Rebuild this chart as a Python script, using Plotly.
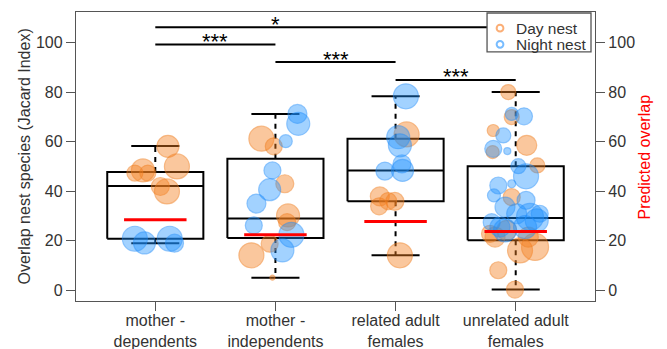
import plotly.graph_objects as go

# ---- data -------------------------------------------------------------
categories = ["mother -<br>dependents", "mother -<br>independents",
              "related adult<br>females", "unrelated adult<br>females"]

# box summaries (Jaccard overlap, %)
box_lower = [19.0, 5.1, 14.1, 0.3]
box_q1 = [20.8, 21.1, 35.9, 20.2]
box_median = [42.1, 29.0, 48.4, 29.2]
box_q3 = [47.7, 53.1, 61.2, 50.1]
box_upper = [58.2, 71.2, 78.3, 80.0]

# predicted overlap per category
predicted = [28.5, 22.4, 27.8, 23.7]

# day-nest observations: category index, jitter, value, weight
day_cat = [1] * 7 + [2] * 8 + [3] * 6 + [4] * 15
day_jit = [0.105, 0.18, -0.103, -0.17, -0.062, 0.042, 0.097,
           -0.117, -0.014, 0.078, 0.105, 0.097, -0.048, -0.2, -0.025,
           0.092, -0.131, -0.006, -0.137, -0.062, 0.036,
           -0.062, -0.033, -0.187, 0.092, -0.192, 0.18, -0.033, -0.145,
           -0.006, -0.172, 0.036, 0.161, -0.075, 0.105, -0.214]
day_val = [58.1, 50.0, 48.4, 47.3, 47.3, 41.9, 39.9,
           61.2, 58.1, 43.0, 30.2, 27.5, 18.8, 14.1, 5.1,
           62.9, 37.9, 35.9, 33.9, 36.0, 14.1,
           80.0, 69.9, 64.5, 58.5, 55.8, 50.4, 37.6, 8.1,
           0.3, 21.5, 16.1, 17.5, 24.2, 21.5, 22.8]
day_wt = [22, 25, 23, 16, 16, 18, 25,
          25, 17, 18, 23, 17, 17, 25, 5,
          25, 19, 18, 17, 17, 25,
          15, 15, 12, 20, 13, 15, 17, 17,
          17, 20, 25, 27, 20, 20, 17]

# night-nest observations
night_cat = [1] * 4 + [2] * 9 + [3] * 6 + [4] * 20
night_jit = [-0.17, -0.09, 0.12, 0.16,
             0.183, 0.19, 0.086, -0.025, -0.048, -0.158, -0.18, 0.133, 0.058,
             0.086, 0.022, 0.036, -0.089, 0.058, 0.053,
             -0.033, 0.069, -0.103, -0.187, -0.07, 0.022, 0.086, -0.145,
             -0.033, -0.181, 0.086, -0.089, 0.119, 0.008, -0.2, 0.175,
             -0.089, 0.078, 0.2, -0.131]
night_val = [20.8, 19.1, 20.8, 19.0,
             71.2, 67.2, 60.2, 48.4, 40.6, 35.0, 26.2, 22.4, 16.1,
             78.3, 61.8, 58.5, 48.1, 48.4, 51.0,
             71.2, 70.2, 62.5, 57.1, 56.2, 50.1, 46.0, 42.3,
             43.0, 38.3, 36.3, 33.6, 29.6, 30.9, 27.5, 28.2,
             24.2, 25.5, 30.9, 25.5]
night_wt = [25, 22, 25, 18,
            19, 23, 13, 17, 22, 19, 17, 25, 23,
            25, 23, 23, 18, 22, 18,
            13, 17, 15, 17, 7, 15, 25, 17,
            8, 13, 18, 20, 27, 20, 17, 23,
            23, 23, 17, 20]

# pairwise comparisons: from, to, height, label, label position
sig_from = [1, 1, 2, 3]
sig_to = [4, 2, 3, 4]
sig_y = [106.2, 99.2, 92.1, 84.9]
sig_text = ["*", "***", "***", "***"]
sig_label_x = [2.0, 1.5, 2.5, 3.5]

y_ticks = [0, 20, 40, 60, 80, 100]

# ---- styling ----------------------------------------------------------
FONT = "Liberation Sans, Arial, sans-serif"
ORANGE_FILL = "rgba(245,128,30,0.62)"
ORANGE_LINE = "rgba(240,125,30,0.7)"
BLUE_FILL = "rgba(30,144,255,0.58)"
BLUE_LINE = "rgba(30,140,250,0.65)"
AXIS_COL = "#555555"
TEXT_COL = "#333333"
BOX_HALF = 0.4
CAP_HALF = 0.2
PRED_HALF = 0.26

fig = go.Figure()

# box outlines, medians and whisker caps
bx, by = [], []
wx, wy = [], []
for i in range(len(categories)):
    c = i + 1
    bx += [c - BOX_HALF, c + BOX_HALF, c + BOX_HALF, c - BOX_HALF, c - BOX_HALF, None]
    by += [box_q1[i], box_q1[i], box_q3[i], box_q3[i], box_q1[i], None]
    bx += [c - BOX_HALF, c + BOX_HALF, None]
    by += [box_median[i], box_median[i], None]
    bx += [c - CAP_HALF, c + CAP_HALF, None, c - CAP_HALF, c + CAP_HALF, None]
    by += [box_upper[i], box_upper[i], None, box_lower[i], box_lower[i], None]
    wx += [c, c, None, c, c, None]
    wy += [box_q3[i], box_upper[i], None, box_q1[i], box_lower[i], None]

fig.add_trace(go.Scatter(x=wx, y=wy, mode="lines", hoverinfo="skip",
                         line=dict(color="black", width=2, dash="5px,5px"),
                         showlegend=False))
fig.add_trace(go.Scatter(x=bx, y=by, mode="lines", hoverinfo="skip",
                         line=dict(color="black", width=2),
                         showlegend=False))

# observations
fig.add_trace(go.Scatter(
    x=[c + j for c, j in zip(day_cat, day_jit)], y=day_val, mode="markers",
    marker=dict(size=day_wt, color=ORANGE_FILL,
                line=dict(color=ORANGE_LINE, width=1.2)),
    name="Day nest", showlegend=False))
fig.add_trace(go.Scatter(
    x=[c + j for c, j in zip(night_cat, night_jit)], y=night_val, mode="markers",
    marker=dict(size=night_wt, color=BLUE_FILL,
                line=dict(color=BLUE_LINE, width=1.2)),
    name="Night nest", showlegend=False))

# predicted overlap on the right-hand axis
px_, py_ = [], []
for i, p in enumerate(predicted):
    c = i + 1
    px_ += [c - PRED_HALF, c + PRED_HALF, None]
    py_ += [p, p, None]
fig.add_trace(go.Scatter(x=px_, y=py_, mode="lines", yaxis="y2",
                         line=dict(color="#ff0000", width=3),
                         hoverinfo="skip", showlegend=False))

# significance bars
sx, sy = [], []
for a, b, h in zip(sig_from, sig_to, sig_y):
    sx += [a, b, None]
    sy += [h, h, None]
fig.add_trace(go.Scatter(x=sx, y=sy, mode="lines", hoverinfo="skip",
                         line=dict(color="black", width=2), showlegend=False))
for lx, h, t in zip(sig_label_x, sig_y, sig_text):
    fig.add_annotation(x=lx, y=h, text=t, showarrow=False, xanchor="center",
                       yanchor="middle", yshift=3,
                       font=dict(family=FONT, size=22, color="black"))

# legend box (top-right, over the bars)
fig.add_shape(type="rect", xref="paper", yref="paper",
              x0=0.792, x1=0.9923, y0=0.862, y1=0.9965,
              line=dict(color=AXIS_COL, width=1.3), fillcolor="white", layer="above")
legend_items = [("Day nest", "rgba(250,140,60,0.7)", 0.944),
                ("Night nest", "rgba(30,144,255,0.6)", 0.888)]
for label, col, ly in legend_items:
    fig.add_shape(type="circle", xref="paper", yref="paper",
                  x0=0.817 - 0.0065, x1=0.817 + 0.0065,
                  y0=ly - 0.0115, y1=ly + 0.0115,
                  line=dict(color=col, width=2), layer="above")
    fig.add_annotation(xref="paper", yref="paper", x=0.843, y=ly, text=label,
                       showarrow=False, xanchor="left", yanchor="middle",
                       font=dict(family=FONT, size=15.5, color=TEXT_COL))

# axis titles
fig.add_annotation(xref="paper", yref="paper", x=-0.0985, y=0.5,
                   text="Overlap nest species (Jacard Index)", textangle=-90,
                   showarrow=False, xanchor="center", yanchor="middle",
                   font=dict(family=FONT, size=16, color=TEXT_COL))
fig.add_annotation(xref="paper", yref="paper", x=1.0963, y=0.5,
                   text="Predicted overlap", textangle=-90,
                   showarrow=False, xanchor="center", yanchor="middle",
                   font=dict(family=FONT, size=16, color="#ff0000"))

y_range = [-4.32, 112.32]
axis_common = dict(showline=True, linecolor=AXIS_COL, linewidth=1.3,
                   ticks="outside", ticklen=9, tickwidth=1.3, tickcolor=AXIS_COL,
                   showgrid=False, zeroline=False, automargin=False,
                   tickfont=dict(family=FONT, size=16, color=TEXT_COL))

fig.update_layout(
    width=667, height=349,
    margin=dict(l=76, r=72, t=12, b=48),
    paper_bgcolor="white", plot_bgcolor="white",
    font=dict(family=FONT, color=TEXT_COL),
    xaxis=dict(range=[0.34, 4.66], tickvals=[1, 2, 3, 4], ticktext=categories,
               mirror=True, ticklabelstandoff=-4, **axis_common),
    yaxis=dict(range=y_range, tickvals=y_ticks, **axis_common),
    yaxis2=dict(range=y_range, tickvals=y_ticks, overlaying="y", side="right",
                **axis_common),
)

fig.write_html("out.html")
